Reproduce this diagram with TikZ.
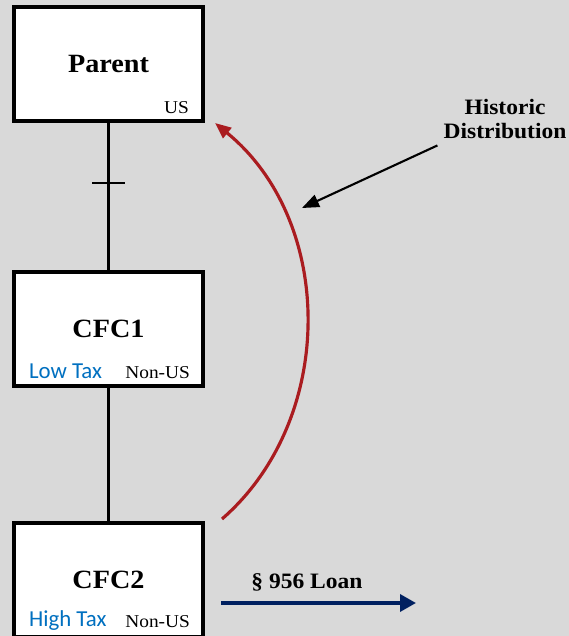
\documentclass[tikz,border=0pt]{standalone}
\usepackage{fontspec}
\setmainfont[FakeStretch=1.07]{Liberation Serif}
\newfontfamily\calibri{Carlito}
\usepackage{tikz}
\usetikzlibrary{positioning, arrows.meta}
\definecolor{bggray}{RGB}{217,217,217}
\definecolor{taxblue}{RGB}{0,112,192}
\definecolor{distred}{RGB}{170,28,32}
\definecolor{loannavy}{RGB}{0,32,96}
\tikzset{
entity/.style={
  draw, 
  rectangle, 
  fill=white,
  line width=2.6pt,
  minimum height=2.28cm, 
  minimum width=3.78cm,
  font=\fontsize{15}{18}\selectfont\bfseries
  }, 
taxtag/.style={inner sep=0, anchor=base west, text=taxblue, font=\calibri\fontsize{13}{15}\selectfont},
countrytag/.style={inner sep=0, anchor=base east, font=\fontsize{10.3}{12}\selectfont},
tree/.style={line width=2.2pt},
tick/.style={line width=1.1pt},
distline/.style={-{Triangle[length=0.32cm, width=0.26cm]}, distred, line width=1.8pt},
pointer/.style={-{Triangle[length=0.34cm, width=0.26cm]}, line width=1.2pt},
loanline/.style={-{Triangle[length=0.32cm, width=0.34cm]}, loannavy, line width=2pt}
}

\begin{document}
\begin{tikzpicture}
\path[use as bounding box, fill=bggray] (0,0) rectangle (11.38,12.72);
% ownership chain
\node[entity] (parent) at (2.17,11.44) {Parent};
\node[entity] (cfc1) at (2.17,6.14) {CFC1};
\node[entity] (cfc2) at (2.17,1.12) {CFC2};
\draw[tree] (parent) -- coordinate[pos=0.41] (cut) (cfc1);
\draw[tree] (cfc1) -- (cfc2);
\draw[tick] ([xshift=-0.33cm]cut) -- ([xshift=0.33cm]cut);
% tags inside the boxes
\node[countrytag] at ([shift={(-0.32,0.2)}]parent.south east) {US};
\node[taxtag] at ([shift={(0.34,0.2)}]cfc1.south west) {Low Tax};
\node[countrytag] at ([shift={(-0.3,0.2)}]cfc1.south east) {Non-US};
\node[taxtag] at ([shift={(0.34,0.26)}]cfc2.south west) {High Tax};
\node[countrytag] at ([shift={(-0.3,0.24)}]cfc2.south east) {Non-US};
% distribution back up
\coordinate (diststart) at (4.44,2.34);
\coordinate (distend) at (4.30,10.26);
\draw[distline] (diststart) .. controls (6.72,4.32) and (6.72,8.28) .. (distend);
\node[align=center, font=\fontsize{12.5}{14.2}\selectfont\bfseries] (histlabel) at (10.1,10.34) {Historic\\Distribution};
\coordinate (distpoint) at (6.04,8.56);
\draw[pointer] (histlabel.south west) -- (distpoint);
% loan
\coordinate (loanstart) at (4.42,0.66);
\coordinate (loanend) at (8.32,0.66);
\draw[loanline] (loanstart) -- (loanend);
\node[font=\fontsize{12.5}{15}\selectfont\bfseries] (loanlabel) at (6.14,1.08) {\S~956 Loan};
\end{tikzpicture}
\end{document}
